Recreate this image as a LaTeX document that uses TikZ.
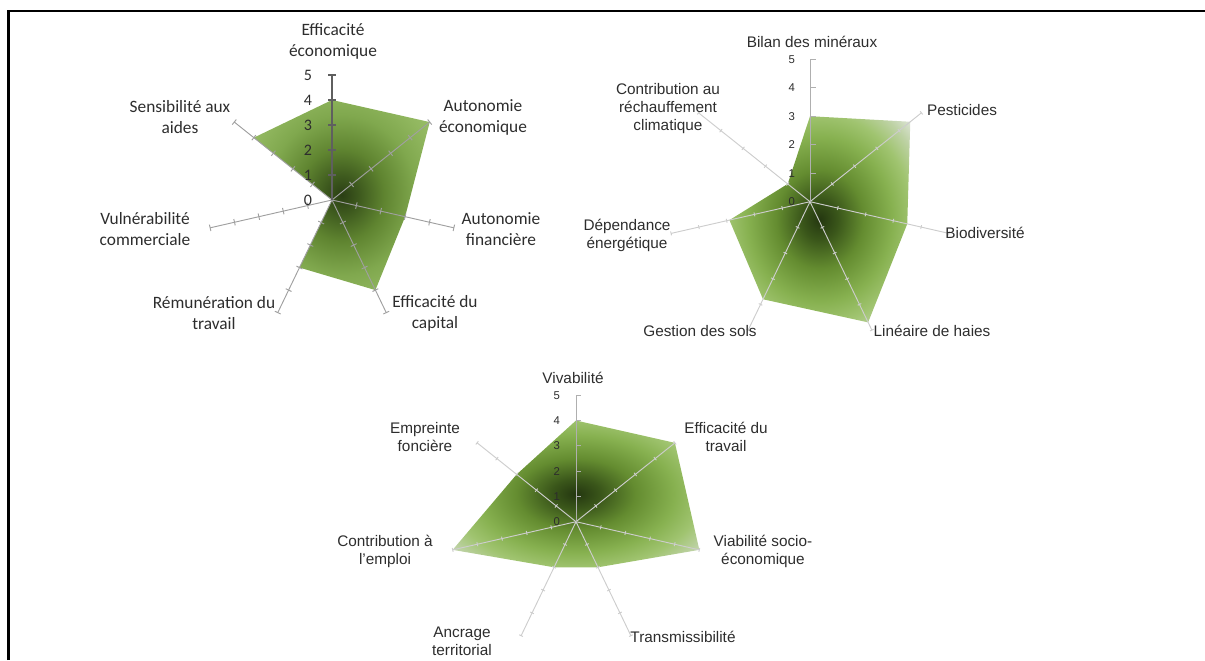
\documentclass[tikz,border=0pt]{standalone}
\usepackage{fontspec}
\setmainfont{Liberation Sans}
\newfontfamily\calibri{Carlito}

\definecolor{txtgray}{RGB}{45,45,45}
\definecolor{axgray}{RGB}{160,160,160}
\definecolor{axdark}{RGB}{95,95,95}
\definecolor{axlight}{RGB}{205,205,205}
\definecolor{axmid}{RGB}{175,175,175}
% chart one: no pale rim
\definecolor{oneA}{RGB}{42,62,20}
\definecolor{oneB}{RGB}{62,90,30}
\definecolor{oneC}{RGB}{95,132,48}
\definecolor{oneD}{RGB}{128,168,78}
\definecolor{oneE}{RGB}{145,183,95}
\definecolor{oneF}{RGB}{158,193,110}
% charts two and three: pale rim
\definecolor{twoA}{RGB}{36,55,16}
\definecolor{twoB}{RGB}{58,86,26}
\definecolor{twoC}{RGB}{100,140,48}
\definecolor{twoD}{RGB}{135,177,80}
\definecolor{twoE}{RGB}{160,196,112}
\definecolor{twoF}{RGB}{190,210,165}
\definecolor{twoG}{RGB}{228,232,226}
% 25bp = half the bounding box of the filled polygon
\pgfdeclareradialshading{radarone}{\pgfpoint{0bp}{0bp}}{color(0bp)=(oneA); color(5bp)=(oneB); color(12bp)=(oneC); color(21bp)=(oneD); color(28bp)=(oneE); color(35bp)=(oneF); color(50bp)=(oneF)}
\pgfdeclareradialshading{radartwo}{\pgfpoint{0bp}{0bp}}{color(0bp)=(twoA); color(5bp)=(twoB); color(12bp)=(twoC); color(20bp)=(twoD); color(25.5bp)=(twoE); color(30.5bp)=(twoF); color(35.5bp)=(twoG); color(50bp)=(twoG)}

\begin{document}
\begin{tikzpicture}[x=0.75pt, y=-0.75pt,
    labone/.style={font=\calibri\fontsize{13}{15.75}\selectfont, text=txtgray, align=center, inner sep=0pt},
    labtwo/.style={font=\fontsize{11.5}{13.5}\selectfont, text=txtgray, align=center, inner sep=0pt},
    numone/.style={font=\calibri\fontsize{12}{12}\selectfont, text=txtgray, inner sep=0pt},
    numtwo/.style={font=\fontsize{8.5}{9}\selectfont, text=txtgray, inner sep=0pt},
    axisone/.style={axgray, line width=0.7pt},
    axistwo/.style={axlight, line width=0.7pt}]
  \useasboundingbox (0,0) rectangle (1205,660);
  \draw [line width=1.9pt] (8.5,660) -- (8.5,11) -- (1205,11);

  % --- chart 1 : economic
  \begin{scope}[shift={(332,200)}, x=18.75pt, y=18.75pt]
    \foreach \v [count=\i from 0] in {4,5,3,4,3,0,4}
      \coordinate (a\i) at ({90-\i*360/7}:\v);
    \shade [shading=radarone] (a0) -- (a1) -- (a2) -- (a3) -- (a4) -- (a5) -- (a6) -- cycle;
    \foreach \i in {1,...,6} {
      \draw [axisone] (0,0) -- ({90-\i*360/7}:5);
      \foreach \r in {1,...,5}
        \draw [axisone] ({90-\i*360/7}:\r) ++({180-\i*360/7}:0.13) -- ++({-\i*360/7}:0.26);
    }
    \draw [axdark, line width=0.8pt] (0,0) -- (0,5);
    \foreach \r in {0,...,5} {
      \ifnum\r>0 \draw [axdark, line width=0.8pt] (-0.15,\r) -- (0.15,\r); \fi
      \node [numone] (na\r) at (-0.96,\r) {\r};
    }
  \end{scope}
  \node [labone] (effeco) at (333,41) {Efficacité\\économique};
  \node [labone] (autoeco) at (483,117) {Autonomie\\économique};
  \node [labone] (autofin) at (501,229) {Autonomie\\financière};
  \node [labone] (effcap) at (435,313) {Efficacité du\\capital};
  \node [labone] (remtrav) at (214,313) {Rémunération du\\travail};
  \node [labone] (vulcom) at (145,229) {Vulnérabilité\\commerciale};
  \node [labone] (sensaid) at (180,117) {Sensibilité aux\\aides};

  % --- chart 2 : environmental
  \begin{scope}[shift={(810,201.7)}, x=21.375pt, y=21.375pt]
    \foreach \v [count=\i from 0] in {3,4.5,3.5,4.7,3.8,2.9,1}
      \coordinate (b\i) at ({90-\i*360/7}:\v);
    \shade [shading=radartwo] (b0) -- (b1) -- (b2) -- (b3) -- (b4) -- (b5) -- (b6) -- cycle;
    \foreach \i in {1,...,6} {
      \draw [axistwo] (0,0) -- ({90-\i*360/7}:5);
      \foreach \r in {1,...,5}
        \draw [axistwo] ({90-\i*360/7}:\r) ++({180-\i*360/7}:0.07) -- ++({-\i*360/7}:0.14);
    }
    \draw [axmid, line width=0.7pt] (0,0) -- (0,5);
    \foreach \r in {0,...,5} {
      \ifnum\r>0 \draw [axmid, line width=0.7pt] (0,\r) -- (0.2,\r); \fi
      \node [numtwo] (nb\r) at (-0.64,\r) {\r};
    }
  \end{scope}
  \node [labtwo] (bilan) at (812,42) {Bilan des minéraux};
  \node [labtwo] (pest) at (962,110) {Pesticides};
  \node [labtwo] (biodiv) at (985,233) {Biodiversité};
  \node [labtwo] (haies) at (932,331) {Linéaire de haies};
  \node [labtwo] (sols) at (700,331) {Gestion des sols};
  \node [labtwo] (energ) at (627,235) {Dépendance\\énergétique};
  \node [labtwo] (climat) at (668,109) {Contribution au\\réchauffement\\climatique};

  % --- chart 3 : social
  \begin{scope}[shift={(576,521.7)}, x=18.975pt, y=18.975pt]
    \foreach \v [count=\i from 0] in {4,5,5,2,2,5,3}
      \coordinate (c\i) at ({90-\i*360/7}:\v);
    \shade [shading=radartwo] (c0) -- (c1) -- (c2) -- (c3) -- (c4) -- (c5) -- (c6) -- cycle;
    \foreach \i in {1,...,6} {
      \draw [axistwo] (0,0) -- ({90-\i*360/7}:5);
      \foreach \r in {1,...,5}
        \draw [axistwo] ({90-\i*360/7}:\r) ++({180-\i*360/7}:0.08) -- ++({-\i*360/7}:0.16);
    }
    \draw [axmid, line width=0.7pt] (0,0) -- (0,5);
    \foreach \r in {0,...,5} {
      \ifnum\r>0 \draw [axmid, line width=0.7pt] (0,\r) -- (0.2,\r); \fi
      \node [numtwo] (nc\r) at (-0.76,\r) {\r};
    }
  \end{scope}
  \node [labtwo] (vivab) at (573,378) {Vivabilité};
  \node [labtwo] (efftrav) at (726,437) {Efficacité du\\travail};
  \node [labtwo] (viab) at (763,551) {Viabilité socio-\\économique};
  \node [labtwo] (transm) at (683,637) {Transmissibilité};
  \node [labtwo] (ancr) at (462,641) {Ancrage\\territorial};
  \node [labtwo] (emploi) at (385,551) {Contribution à\\l'emploi};
  \node [labtwo] (empr) at (425,437) {Empreinte\\foncière};
\end{tikzpicture}
\end{document}
